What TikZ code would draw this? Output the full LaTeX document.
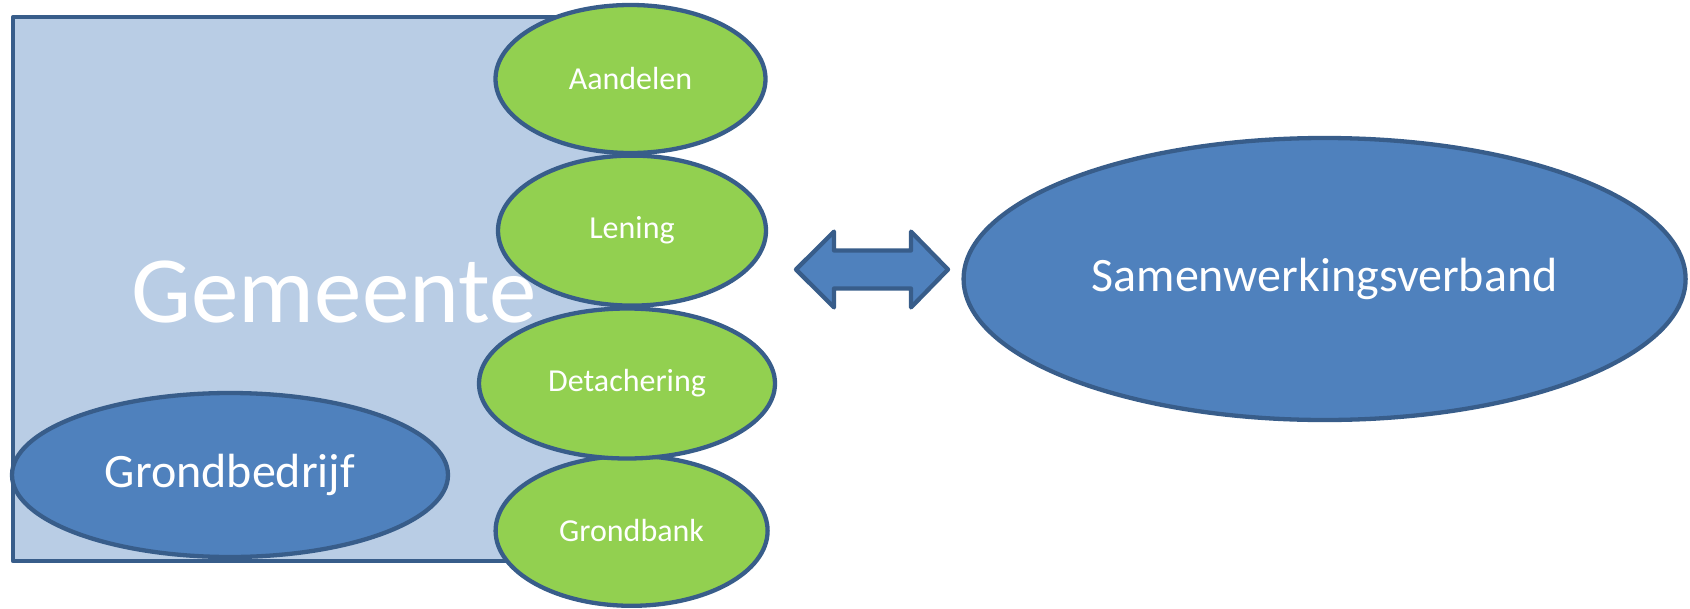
\documentclass[tikz,border=0pt]{standalone}
\usepackage{fontspec}
\setmainfont{Carlito}
\usetikzlibrary{shapes.geometric}
\definecolor{edgeblue}{HTML}{385D8A}
\definecolor{midblue}{HTML}{4F81BD}
\definecolor{lightblue}{HTML}{B9CDE5}
\definecolor{leaf}{HTML}{92D050}
\begin{document}
\begin{tikzpicture}[x=1pt,y=-1pt,
  outline/.style={draw=edgeblue,line width=4.3pt,line join=round},
  greenell/.style={outline,ellipse,fill=leaf,text=white,font=\fontsize{32}{38}\selectfont,inner sep=0pt},
  blueell/.style={outline,ellipse,fill=midblue,text=white,inner sep=0pt}]
\useasboundingbox (0,0) rectangle (1690,608);
% municipality box
\node[outline,fill=lightblue,minimum width=620pt,minimum height=544pt,anchor=north west,inner sep=0pt] (gem) at (10.8,15) {};
\node[text=white,font=\fontsize{95}{110}\selectfont,anchor=base] (gemt) at (334,322) {Gemeente};
\node[blueell,font=\fontsize{48}{56}\selectfont,minimum width=436pt,minimum height=164pt] (gb) at (230,475) {Grondbedrijf};
% instrument ellipses
\node[greenell,minimum width=270pt,minimum height=148pt] (aa) at (630.5,79) {Aandelen};
\node[greenell,minimum width=268pt,minimum height=150pt] (le) at (632,230.6) {Lening};
\node[greenell,minimum width=272pt,minimum height=150pt] (gk) at (631.6,530.8) {Grondbank};
\node[greenell,minimum width=296pt,minimum height=150pt] (de) at (627,383.5) {Detachering};
% partner
\node[blueell,font=\fontsize{48}{56}\selectfont,minimum width=722pt,minimum height=282pt] (sv) at (1324.6,279) {Samenwerkingsverband};
% double arrow
\coordinate (al) at (796,269.5);
\coordinate (ar) at (948,269.5);
\draw[outline,fill=midblue] (al) -- (834,231.6) -- (834,250.5) -- (911,250.5) -- (911,231.6) -- (ar)
  -- (911,307.4) -- (911,288.5) -- (834,288.5) -- (834,307.4) -- cycle;
\end{tikzpicture}
\end{document}
